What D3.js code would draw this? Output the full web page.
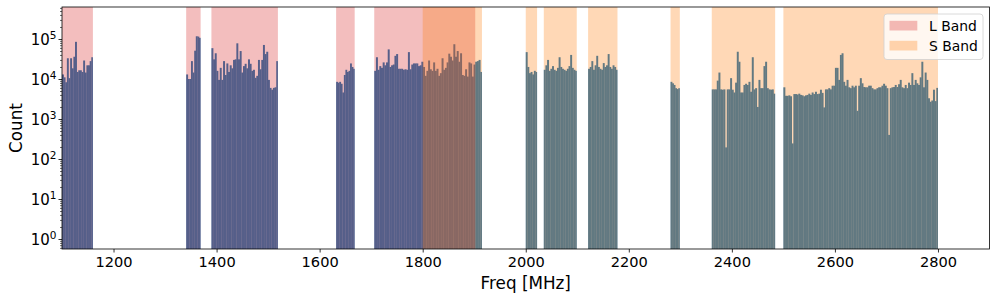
<!DOCTYPE html>
<html>
<head>
<meta charset="utf-8">
<script src="https://cdn.jsdelivr.net/npm/d3@7"></script>
<style>
  body { margin: 0; background: #fff; }
  text { font-family: "DejaVu Sans", sans-serif; fill: #000; }
</style>
</head>
<body>
<div id="chart"></div>
<script>
// histogram segments (MHz) and the counts per bin inside each one
const segStart = [1100, 1341, 1390, 1632, 1706, 2000, 2035, 2121, 2281, 2361, 2500];
const segEnd   = [1160, 1369, 1519, 1668, 1915, 2022, 2099, 2178, 2299, 2484, 2800];

const counts1100 = [13000, 11000, 8300, 33000, 10500, 33000, 18500, 36000, 85000, 15000, 16500, 16500, 15000, 29000, 14500, 22000, 22000, 28000, 35000];
const counts1341 = [13000, 10000, 10000, 28000, 14500, 51000, 117000, 115000, 107000];
const counts1390 = [59000, 31000, 44000, 16000, 9500, 19000, 9500, 28000, 12600, 24500, 15000, 22000, 18500, 30000, 31000, 78000, 31000, 50000, 14500, 21000,
                    24000, 18500, 31000, 24000, 16000, 17000, 10700, 12000, 30000, 17500, 30000, 71000, 42000, 48000, 9500, 6000, 5400, 6000, 6200, 28000];
const counts1632 = [8500, 8100, 8500, 7600, 4600, 12600, 17000, 15000, 16000, 24500, 20000, 18000];
const counts1706 = [16000, 35000, 17000, 21000, 19000, 26000, 22000, 26000, 55000, 20000, 22000, 23000, 38000, 42000, 18000, 18000, 18000, 17000, 17500, 17000,
                    47000, 17500, 23000, 24500, 24500, 24500, 21000, 22000,
                    27000, 20000, 12000, 16000, 29000, 17500, 16000, 26000, 16000, 18000, 12000, 14000, 33000, 17000, 19000, 26000, 43000, 36000, 29000, 74000,
                    36000, 50000, 27000, 44000, 12600, 12000, 17500, 11500, 26000, 24500, 11500, 23000,
                    27000, 28000, 30000, 15000];
const counts2000 = [47000, 20000, 14000, 15000, 13000, 16000, 15000];
const counts2035 = [17000, 22000, 30000, 16000, 18000, 21000, 17000, 16000, 19000, 35000, 20000, 18000, 17000, 16000, 18000, 21000, 40000, 19000, 17000, 16000];
const counts2121 = [18000, 20000, 28000, 17000, 22000, 38000, 20000, 18000, 17000, 25000, 20000, 22000, 42000, 20000, 18000, 22000, 20000, 17000];
const counts2281 = [8500, 7800, 7100, 5900, 5600, 5900];
const counts2361 = [5500, 5500, 5500, 9100, 14500, 5500, 5400, 5500, 195, 5500, 5500, 10500, 5400, 4600, 8100, 48000, 27000, 4600, 4600, 7100,
                    7600, 7100, 8500, 4800, 35000, 5500, 5900, 2000, 9500, 5900, 5900, 21000, 27000, 5900, 5500, 5400, 5500, 4300];
const counts2500 = [6200, 3800, 3800, 3900, 3700, 245, 4200, 4200, 4100, 4300, 4000, 3900, 3700, 3900, 4000, 4300, 4000, 4600, 4200, 4800,
                    4200, 4300, 5400, 4500, 1950, 5500, 5500, 5900, 5500, 6800, 6800, 19000, 19000, 9500, 40000, 44000, 8500, 6800, 9500, 6200,
                    5900, 6800, 6200, 6800, 1600, 6800, 10500, 7800, 6300, 6200, 6200, 6800, 6800, 5900, 5500, 5500, 5900, 6200, 6200, 6800,
                    7600, 6800, 5900, 400, 5900, 6200, 6300, 7100, 6300, 7400, 9500, 6200, 5900, 7100, 5900, 8100, 7100, 14000, 7100, 9500,
                    7800, 7100, 11000, 27000, 6200, 14500, 9500, 3300, 2700, 2900, 5400, 2800, 6000];
const segCounts = [counts1100, counts1341, counts1390, counts1632, counts1706, counts2000,
                   counts2035, counts2121, counts2281, counts2361, counts2500];

// shaded bands
const lBand = [[1100, 1160], [1341, 1369], [1390, 1519], [1632, 1668], [1706, 1902]];
const sBand = [[1800, 1915], [2000, 2022], [2035, 2099], [2121, 2178], [2281, 2299], [2361, 2484], [2500, 2800]];

const xTicks = [1200, 1400, 1600, 1800, 2000, 2200, 2400, 2600, 2800];
const yTicks = [1, 10, 100, 1000, 10000, 100000];

const width = 997, height = 299;
const pl = 62, pr = 989.5, pt = 7, pb = 249;

const x = d3.scaleLinear().domain([1100, 2900]).range([pl, pr]);
const y = d3.scaleLog().domain([Math.pow(10, -0.25), Math.pow(10, 5.8)]).range([pb, pt]);

const svg = d3.select("#chart").append("svg")
    .attr("width", width)
    .attr("height", height);

svg.append("defs").append("clipPath").attr("id", "plotclip")
    .append("rect")
    .attr("x", pl).attr("y", pt)
    .attr("width", pr - pl).attr("height", pb - pt);

const plot = svg.append("g").attr("clip-path", "url(#plotclip)");

// bars (a hair wider than the bin so the seams stay faint)
segCounts.forEach(function(counts, k) {
    var w = (segEnd[k] - segStart[k]) / counts.length;
    plot.append("g").selectAll("rect")
        .data(counts)
        .enter().append("rect")
        .attr("x", function(d, i) { return x(segStart[k] + i * w); })
        .attr("width", function(d, i) {
            var bw = x(segStart[k] + (i + 1) * w) - x(segStart[k] + i * w);
            return i < counts.length - 1 ? bw + 0.3 : bw;
        })
        .attr("y", function(d) { return y(d); })
        .attr("height", function(d) { return pb - y(d); })
        .attr("fill", "#1f77b4");
});

// bands on top of the bars
plot.append("g").selectAll("rect")
    .data(lBand)
    .enter().append("rect")
    .attr("x", function(d) { return x(d[0]); })
    .attr("width", function(d) { return x(d[1]) - x(d[0]); })
    .attr("y", pt).attr("height", pb - pt)
    .attr("fill", "#d62728").attr("fill-opacity", 0.3);

plot.append("g").selectAll("rect")
    .data(sBand)
    .enter().append("rect")
    .attr("x", function(d) { return x(d[0]); })
    .attr("width", function(d) { return x(d[1]) - x(d[0]); })
    .attr("y", pt).attr("height", pb - pt)
    .attr("fill", "#ff7f0e").attr("fill-opacity", 0.3);

// x axis
const xAxis = d3.axisBottom(x).tickValues(xTicks).tickSize(3.5).tickPadding(3.5).tickFormat(d3.format("d"));
const gx = svg.append("g").attr("transform", "translate(0," + pb + ")").call(xAxis);
gx.select(".domain").remove();
gx.selectAll("line").attr("stroke", "#000").attr("stroke-width", 0.8);
gx.selectAll("text").attr("font-size", "14.6px").attr("font-family", "DejaVu Sans").attr("dy", "0.74em");

// y axis, minor ticks first
var minor = [];
for (var e = -1; e <= 5; e++) {
    for (var m = 2; m <= 9; m++) {
        var v = m * Math.pow(10, e);
        if (v > y.domain()[0] && v < y.domain()[1]) minor.push(v);
    }
}
const gyMinor = svg.append("g").attr("transform", "translate(" + pl + ",0)")
    .call(d3.axisLeft(y).tickValues(minor).tickSize(2).tickFormat(""));
gyMinor.select(".domain").remove();
gyMinor.selectAll("line").attr("stroke", "#000").attr("stroke-width", 0.6);

const gy = svg.append("g").attr("transform", "translate(" + pl + ",0)")
    .call(d3.axisLeft(y).tickValues(yTicks).tickSize(3.5).tickPadding(3.5).tickFormat(""));
gy.select(".domain").remove();
gy.selectAll("line").attr("stroke", "#000").attr("stroke-width", 0.8);
gy.selectAll(".tick").each(function(d) {
    var t = d3.select(this).append("text")
        .attr("x", -5.5)
        .attr("y", 5.3)
        .attr("text-anchor", "end")
        .attr("font-size", "15px")
        .attr("fill", "#000");
    t.append("tspan").text("10");
    t.append("tspan").attr("font-size", "10.5px").attr("dy", -5.5).text(Math.round(Math.log10(d)));
});

// frame
svg.append("rect")
    .attr("x", pl).attr("y", pt)
    .attr("width", pr - pl).attr("height", pb - pt)
    .attr("fill", "none").attr("stroke", "#000").attr("stroke-width", 0.8);

// axis labels
svg.append("text")
    .attr("x", (pl + pr) / 2).attr("y", 289)
    .attr("text-anchor", "middle").attr("font-size", "16.8px")
    .text("Freq [MHz]");

svg.append("text")
    .attr("transform", "translate(21.5," + ((pt + pb) / 2) + ") rotate(-90)")
    .attr("text-anchor", "middle").attr("font-size", "16.8px")
    .text("Count");

// legend
const legend = svg.append("g").attr("transform", "translate(884,14)");
legend.append("rect")
    .attr("width", 99).attr("height", 45.5).attr("rx", 3)
    .attr("fill", "#fff").attr("fill-opacity", 0.8)
    .attr("stroke", "#d0d0d0").attr("stroke-width", 0.8);
const legItems = [{label: "L Band", color: "#d62728"}, {label: "S Band", color: "#ff7f0e"}];
legItems.forEach(function(it, i) {
    legend.append("rect")
        .attr("x", 5.5).attr("y", 6.8 + i * 20)
        .attr("width", 27.8).attr("height", 9.7)
        .attr("fill", it.color).attr("fill-opacity", 0.3);
    legend.append("text")
        .attr("x", 45).attr("y", 16.9 + i * 20)
        .attr("font-size", "13.9px")
        .text(it.label);
});
</script>
</body>
</html>
